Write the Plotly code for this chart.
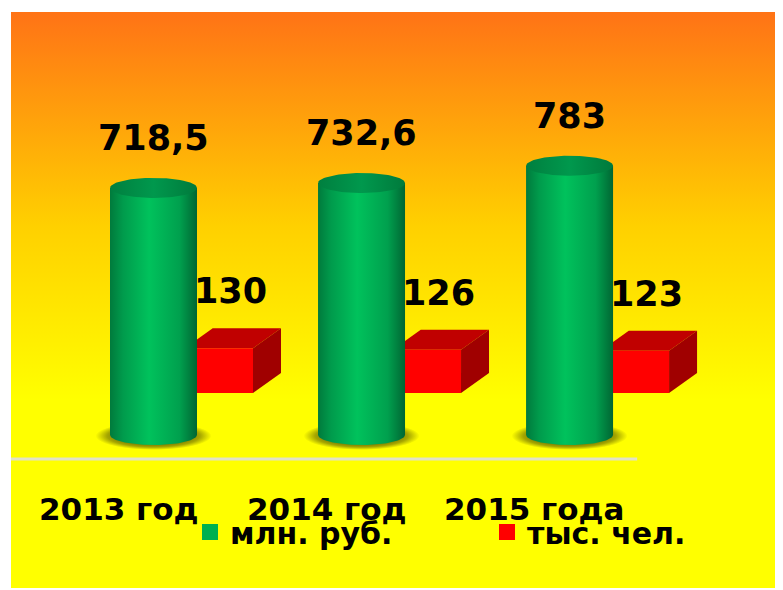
import numpy as np
import plotly.graph_objects as go

# ---- data ----
years = ["2013 год", "2014 год", "2015 года"]
rub_mln = [718.5, 732.6, 783]
people_ths = [130, 126, 123]
rub_labels = ["718,5", "732,6", "783"]
people_labels = ["130", "126", "123"]
series_names = ["млн. руб.", "тыс. чел."]

# ---- layout geometry (page body has an 8px margin) ----
W, H = 775, 582
ML, MR, MT, MB = 3, 0, 4, 2
X_RANGE = [-0.685, 3.026]
Y_RANGE = [-445, 1230]
PW, PH = W - ML - MR, H - MT - MB
ux = (X_RANGE[1] - X_RANGE[0]) / PW   # x units per pixel
uy = (Y_RANGE[1] - Y_RANGE[0]) / PH   # y units per pixel

cyl_hw = 43.5 * ux
ell_b = 10 * uy
box_x0, box_x1 = 0.15, 99.5 * ux
box_base = 42 * uy
dep_x, dep_y = 28 * ux, 20 * uy

FONT = "DejaVu Sans"
GREEN = "#00B050"
RED = "#FF0000"

fig = go.Figure()

# background gradient (orange -> yellow)
yb = 35 * uy
fig.add_trace(go.Scatter(
    x=[X_RANGE[0], X_RANGE[1], X_RANGE[1], X_RANGE[0], X_RANGE[0]],
    y=[yb, yb, Y_RANGE[1], Y_RANGE[1], yb],
    mode="lines", line=dict(width=0), fill="toself",
    fillgradient=dict(type="vertical", start=yb, stop=Y_RANGE[1],
                      colorscale=[[0, "#FFFF00"], [0.45, "#FFD000"], [1, "#FF7316"]]),
    hoverinfo="skip", showlegend=False))

t_full = np.linspace(0, 2 * np.pi, 90)
t_front = np.linspace(np.pi, 2 * np.pi, 60)

# red boxes (behind cylinders)
for i, v in enumerate(people_ths):
    xa, xb = i + box_x0, i + box_x1
    y0, y1 = box_base, box_base + v
    fig.add_trace(go.Scatter(
        x=[xa, xb, xb + dep_x, xa + dep_x, xa], y=[y1, y1, y1 + dep_y, y1 + dep_y, y1],
        mode="lines", line=dict(width=0), fill="toself", fillcolor="#C00000",
        hoverinfo="skip", showlegend=False))
    fig.add_trace(go.Scatter(
        x=[xb, xb + dep_x, xb + dep_x, xb, xb], y=[y0, y0 + dep_y, y1 + dep_y, y1, y0],
        mode="lines", line=dict(width=0), fill="toself", fillcolor="#A00000",
        hoverinfo="skip", showlegend=False))
    fig.add_trace(go.Scatter(
        x=[xa, xb, xb, xa, xa], y=[y0, y0, y1, y1, y0],
        mode="lines", line=dict(width=0), fill="toself", fillcolor=RED,
        hoverinfo="skip", showlegend=False))

# green cylinders
for i, v in enumerate(rub_mln):
    # shadow
    fig.add_trace(go.Scatter(
        x=i + 58 * ux * np.cos(t_full), y=-1 * uy + 14 * uy * np.sin(t_full),
        mode="lines", line=dict(width=0), fill="toself",
        fillgradient=dict(type="radial",
                          colorscale=[[0, "#4A4A00"], [0.55, "#6F7000"], [0.8, "#A6A600"], [1, "#FFFF00"]]),
        hoverinfo="skip", showlegend=False))
    # body
    bx = list(i - cyl_hw * np.cos(t_front - np.pi))
    by = list(ell_b * np.sin(t_front))
    xs = bx + [i + cyl_hw, i - cyl_hw, bx[0]]
    ys = by + [v, v, by[0]]
    fig.add_trace(go.Scatter(
        x=xs, y=ys, mode="lines", line=dict(width=0), fill="toself",
        fillgradient=dict(type="horizontal",
                          colorscale=[[0, "#007A3C"], [0.15, "#009B4C"], [0.45, "#00C25C"],
                                      [0.8, "#00A04E"], [1, "#006633"]]),
        hoverinfo="skip", showlegend=False))
    # top ellipse
    fig.add_trace(go.Scatter(
        x=i + cyl_hw * np.cos(t_full), y=v + ell_b * np.sin(t_full),
        mode="lines", line=dict(width=0), fill="toself",
        fillgradient=dict(type="horizontal",
                          colorscale=[[0, "#007F3F"], [0.5, "#00984D"], [1, "#007A3C"]]),
        hoverinfo="skip", showlegend=False))

# legend entries (one legend per series so each sits at its own spot)
fig.add_trace(go.Scatter(x=[None], y=[None], mode="markers", name=series_names[0],
                         legend="legend",
                         marker=dict(symbol="square", color=GREEN, size=20)))
fig.add_trace(go.Scatter(x=[None], y=[None], mode="markers", name=series_names[1],
                         legend="legend2",
                         marker=dict(symbol="square", color=RED, size=20)))

# baseline
fig.add_shape(type="line", xref="x", yref="y", x0=X_RANGE[0], x1=2.325,
              y0=-24 * uy, y1=-24 * uy, line=dict(color="#E2E2C8", width=3))

# value labels
for i, (v, lab) in enumerate(zip(rub_mln, rub_labels)):
    fig.add_annotation(x=i, y=v + 50 * uy, text=lab, showarrow=False,
                       font=dict(family=FONT, size=35, color="black", weight="bold"))
for i, (v, lab) in enumerate(zip(people_ths, people_labels)):
    fig.add_annotation(x=i + 77 * ux, y=box_base + v + 57 * uy, text=lab, showarrow=False,
                       font=dict(family=FONT, size=35, color="black", weight="bold"))
# category labels
for i, lab in enumerate(years):
    fig.add_annotation(x=i - 35 * ux, y=-74 * uy, text=lab, showarrow=False,
                       font=dict(family=FONT, size=31, color="black", weight="bold"))

# legend positions (page pixels -> paper coords); plot area starts at page (11, 12)
def px_to_paper_x(px):
    return (px - 11) / PW

def px_to_paper_y(py):
    return (12 + PH - py) / PH

leg_common = dict(orientation="h", xanchor="left", yanchor="middle",
                  bgcolor="rgba(0,0,0,0)", borderwidth=0,
                  font=dict(family=FONT, size=30, color="black", weight="bold"),
                  itemclick=False, itemdoubleclick=False)

fig.update_layout(
    width=W, height=H,
    margin=dict(l=ML, r=MR, t=MT, b=MB, pad=0, autoexpand=False),
    paper_bgcolor="white", plot_bgcolor="#FFFF00",
    xaxis=dict(range=X_RANGE, visible=False, fixedrange=True),
    yaxis=dict(range=Y_RANGE, visible=False, fixedrange=True),
    showlegend=True,
    legend=dict(x=px_to_paper_x(190), y=px_to_paper_y(532), **leg_common),
    legend2=dict(x=px_to_paper_x(487), y=px_to_paper_y(532), **leg_common),
    hovermode=False,
)

fig.write_html("out.html")
